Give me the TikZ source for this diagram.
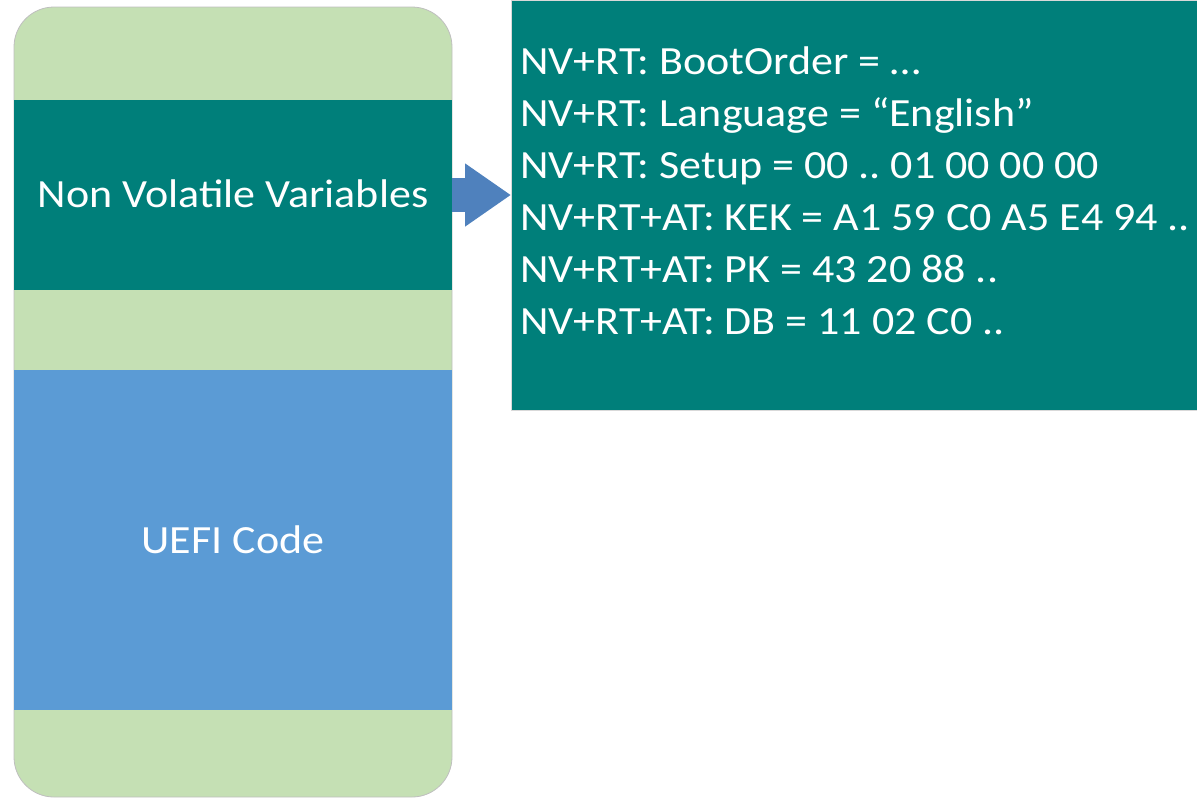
\documentclass[tikz,border=0pt]{standalone}
\usepackage{fontspec}
\setmainfont{Carlito}[FakeStretch=1.1]
\frenchspacing
\usetikzlibrary{arrows.meta,positioning}
\definecolor{paleGreen}{RGB}{197,224,180}
\definecolor{darkTeal}{RGB}{0,127,122}
\definecolor{codeBlue}{RGB}{91,155,213}
\definecolor{arrowBlue}{RGB}{79,129,189}
\tikzset{
	% whole flash chip
	chip/.style={
		rectangle,
		rounded corners=20pt,
		draw=black!25, thin,
		fill=paleGreen,
		minimum width=219pt,
		minimum height=395pt},
	% coloured region inside the chip
	region/.style={
		rectangle,
		inner sep=0pt,
		minimum width=219pt},
	% name of a region
	tag/.style={
		anchor=base,
		inner sep=0pt,
		text=white,
		font=\fontsize{20}{24}\selectfont},
	% one variable line
	varline/.style={
		anchor=base west,
		inner sep=0pt,
		text=white,
		font=\fontsize{20}{24}\selectfont},
	% block arrow
	fat/.style={
		-{Triangle[width=30pt,length=23pt]},
		line width=17pt,
		draw=arrowBlue}
}
\begin{document}
\begin{tikzpicture}[x=0.5pt,y=-0.5pt]
	\useasboundingbox (0,0) rectangle (1197,799);

	\node[chip] (flash) at (233,402) {};
	\node[region,fill=darkTeal,minimum height=95pt] (nvvar) at (233,195) {};
	\node[region,fill=codeBlue,minimum height=170pt] (uefi) at (233,540) {};
	\node[tag] (nvtag) at (233,207) {Non Volatile Variables};
	\node[tag] (uefitag) at (233,553) {UEFI Code};

	\node[rectangle,fill=darkTeal,draw=black!15,minimum width=350pt,minimum height=205pt,anchor=north west] (vars) at (511,0) {};

	\node[varline] (line1) at (520,74) {NV+RT: BootOrder = …};
	\node[varline, below = 26pt of line1.base west, anchor=base west] (line2) {NV+RT: Language = “English”};
	\node[varline, below = 26pt of line2.base west, anchor=base west] (line3) {NV+RT: Setup = 00 .. 01 00 00 00};
	\node[varline, below = 26pt of line3.base west, anchor=base west] (line4) {NV+RT+AT: KEK = A1 59 C0 A5 E4 94 ..};
	\node[varline, below = 26pt of line4.base west, anchor=base west] (line5) {NV+RT+AT: PK = 43 20 88 ..};
	\node[varline, below = 26pt of line5.base west, anchor=base west] (line6) {NV+RT+AT: DB = 11 02 C0 ..};

	\draw[fat] (nvvar.east) -- (vars.west |- nvvar.east);

\end{tikzpicture}
\end{document}
